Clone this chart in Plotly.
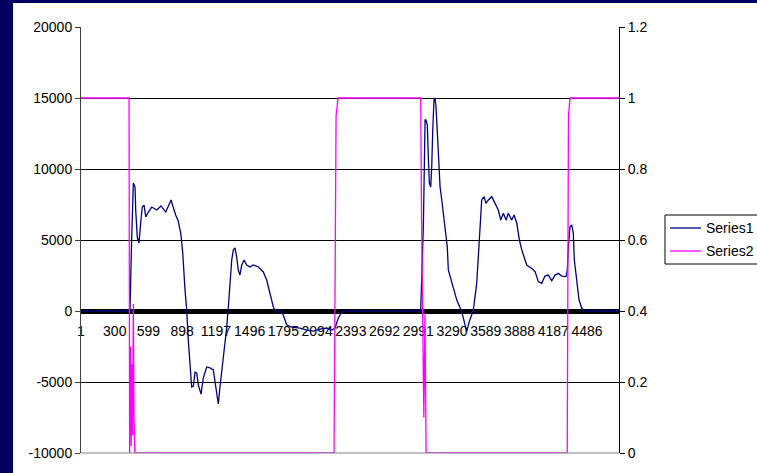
import plotly.graph_objects as go

# Series1: sample index and value (left axis)
s1_idx = [1, 426, 435, 450, 465, 480, 486, 500, 515, 530, 544, 560, 575, 598, 628,
          672, 710, 752, 799, 840, 861, 885, 903, 923, 938, 952, 967, 982, 997,
          1012, 1027, 1041, 1065, 1085, 1115, 1145, 1174, 1189, 1204, 1218, 1233,
          1248, 1269, 1293, 1307, 1322, 1337, 1351, 1366, 1381, 1395, 1410, 1426,
          1446, 1470, 1499, 1528, 1573, 1617, 1647, 1676, 1706, 1730, 1750, 1774,
          1794, 1825, 1869, 1942, 2002, 2060, 2120, 2179, 2224, 2253, 2282, 2312,
          2356, 3012, 3036, 3051, 3059, 3071, 3080, 3089, 3101, 3110, 3119, 3130,
          3139, 3148, 3160, 3172, 3184, 3199, 3213, 3231, 3248, 3257, 3287, 3332,
          3376, 3405, 3420, 3443, 3479, 3509, 3532, 3538, 3553, 3574, 3591, 3612,
          3642, 3671, 3700, 3722, 3745, 3769, 3789, 3819, 3840, 3864, 3887, 3908,
          3952, 3997, 4026, 4055, 4085, 4114, 4144, 4174, 4203, 4232, 4262, 4301,
          4312, 4321, 4336, 4351, 4365, 4374, 4395, 4416, 4440, 4469, 4770]
s1_val = [0, 0, 0, 5000, 9010, 8730, 7100, 5210, 4790, 6200, 7320, 7460, 6620, 6970, 7320,
          7110, 7400, 6970, 7820, 6760, 6400, 5490, 4080, 1480, 70, -2040, -3660, -5350, -5280,
          -4300, -4370, -5210, -5850, -4720, -3940, -4010, -4150, -5000, -6060, -6550, -5350,
          -4370, -2750, -1130, 280, 2400, 3590, 4300, 4440, 3800, 2890, 2540, 3240,
          3590, 3240, 3100, 3240, 3100, 2750, 2180, 1270, 280, -140, -70, 70,
          -280, -990, -1130, -1200, -1340, -1410, -1270, -1200, -1340, -1200, -490, -70,
          0, 0, 6000, 13450, 13450, 13100, 10840, 9010, 8730, 10140, 12750, 14860,
          15000, 14370, 12530, 10140, 8730, 7820, 6900, 5700, 4510, 2890, 1970, 770,
          -50, -1100, -1450, -750, 70, 1970, 5000, 5940, 7820, 8050, 7580, 7820,
          8050, 7580, 7110, 6410, 6880, 6410, 6880, 6410, 6760, 6180, 5000, 4300,
          3240, 3000, 2770, 2070, 1950, 2460, 2530, 2130, 2530, 2650, 2460, 2420,
          2890, 4530, 5940, 6060, 5470, 3590, 2180, 770, 190, 0, 0]

# Series2: sample index and value (right axis)
s2_idx = [1, 427, 432, 440, 446, 452, 458, 465, 471, 478, 2244, 2262, 2280,
          3012, 3020, 3040, 3050, 3060, 4311, 4322, 4336, 4770]
s2_val = [1, 1, 0, 0.3, 0.02, 0.25, 0.05, 0.42, 0.1, 0, 0, 0.95, 1,
          1, 0.65, 0.1, 0.39, 0, 0, 0.95, 1, 1]

x_ticks = [1, 300, 599, 898, 1197, 1496, 1795, 2094, 2393, 2692, 2991, 3290,
           3589, 3888, 4187, 4486]
y_left_ticks = [-10000, -5000, 0, 5000, 10000, 15000, 20000]
y_right_ticks = [0, 0.2, 0.4, 0.6, 0.8, 1, 1.2]

series_names = ["Series1", "Series2"]
series_colors = ["#000080", "#ff00ff"]

FONT = "Liberation Sans, Arial, sans-serif"

# plot area in pixels: left 81, right 619, top 27, bottom 453
PL, PR, PT, PB = 81, 619, 27, 453


def px(x):
    return (x - PL) / (PR - PL)


def py(y):
    return (PB - y) / (PB - PT)


fig = go.Figure()
fig.add_trace(go.Scatter(x=s1_idx, y=s1_val, mode="lines", name=series_names[0],
                         line=dict(color=series_colors[0], width=1.3), yaxis="y"))
fig.add_trace(go.Scatter(x=s2_idx, y=s2_val, mode="lines", name=series_names[1],
                         line=dict(color=series_colors[1], width=1.3), yaxis="y2"))

shapes = [
    # white chart panel inside the navy frame
    dict(type="rect", xref="paper", yref="paper", x0=px(13), x1=px(800),
         y0=py(520), y1=py(3), fillcolor="white", line=dict(width=0), layer="below"),
    # plot area bottom edge
    dict(type="line", xref="paper", yref="paper", x0=0, x1=1, y0=0, y1=0,
         line=dict(color="#808080", width=1), layer="above"),
    # legend box
    dict(type="rect", xref="paper", yref="paper", x0=px(665), x1=px(800),
         y0=py(264), y1=py(215), fillcolor="white",
         line=dict(color="#000000", width=1), layer="above"),
]
annotations = []
legend_rows = [228, 251]
for name, color, ry in zip(series_names, series_colors, legend_rows):
    shapes.append(dict(type="line", xref="paper", yref="paper", x0=px(670), x1=px(701),
                       y0=py(ry), y1=py(ry), line=dict(color=color, width=1.3),
                       layer="above"))
    annotations.append(dict(xref="paper", yref="paper", x=px(704), y=py(ry),
                            xanchor="left", yanchor="middle", text=name,
                            showarrow=False,
                            font=dict(family=FONT, size=14, color="black")))

fig.update_layout(
    width=757, height=473, autosize=False,
    margin=dict(l=PL, r=757 - PR, t=PT, b=473 - PB),
    paper_bgcolor="#000060",
    plot_bgcolor="white",
    font=dict(family=FONT, size=14, color="black"),
    showlegend=False,
    xaxis=dict(range=[1, 4770], tickmode="array", tickvals=x_ticks,
               ticktext=[str(v) for v in x_ticks], tickangle=0, showgrid=False,
               zeroline=False, anchor="free", position=1 / 3, showline=True,
               linecolor="black", linewidth=5, ticks="", layer="below traces",
               ticklabelstandoff=5,
               tickfont=dict(family=FONT, size=14, color="black")),
    yaxis=dict(range=[-10000, 20000], tickmode="array", tickvals=y_left_ticks,
               ticktext=[str(v) for v in y_left_ticks], showgrid=True,
               gridcolor="black", gridwidth=1, zeroline=False, showline=True,
               linecolor="#404040", linewidth=1, ticks="outside", ticklen=5,
               tickcolor="#404040", tickfont=dict(family=FONT, size=14, color="black")),
    yaxis2=dict(range=[0, 1.2], tickmode="array", tickvals=y_right_ticks,
                ticktext=["0", "0.2", "0.4", "0.6", "0.8", "1", "1.2"],
                overlaying="y", side="right", showgrid=False, zeroline=False,
                showline=True, linecolor="black", linewidth=1, ticks="outside",
                ticklen=5, tickcolor="black",
                tickfont=dict(family=FONT, size=14, color="black")),
    shapes=shapes,
    annotations=annotations,
)

fig.write_html("out.html")
